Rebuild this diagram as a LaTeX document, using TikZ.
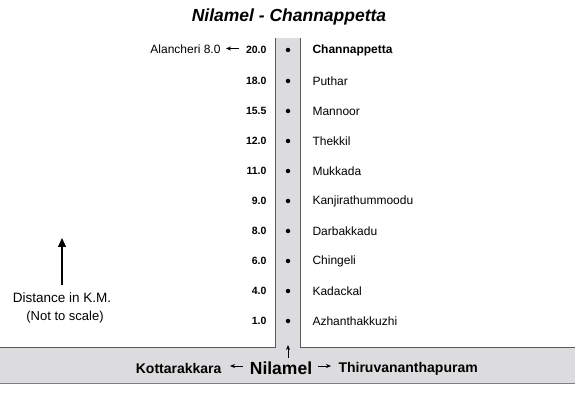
\documentclass[tikz,border=0pt]{standalone}
\usepackage{fontspec}
\setmainfont{Liberation Sans}
\usetikzlibrary{arrows.meta}
\definecolor{road}{RGB}{220,220,222}
\definecolor{edge}{RGB}{90,90,90}
\begin{document}
\begin{tikzpicture}[x=1pt,y=-1pt,
  km/.style={anchor=east,font=\bfseries\fontsize{10.5}{12}\selectfont},
  place/.style={anchor=west,font=\fontsize{12}{14}\selectfont},
  stop/.style={circle,fill=black,inner sep=0pt,minimum size=4.5pt},
  sarr/.style={-{Stealth[length=5pt,width=4pt]},line width=0.7pt}]
\useasboundingbox (0,0) rectangle (575,395);
% road
\fill[road] (0,347) rectangle (575,383);
\fill[road] (275.5,38) rectangle (300.5,348);
\draw[edge,line width=0.8pt] (0,347) -- (275.5,347) -- (275.5,38);
\draw[edge,line width=0.8pt] (575,347) -- (300.5,347) -- (300.5,38);
\draw[gray,line width=1pt] (0,383) -- (575,383);
% title
\node (title) at (289,17) {\bfseries\itshape\fontsize{17.5}{20}\selectfont Nilamel - Channappetta};
% stops
\foreach \y/\k/\n/\name in {50/20.0/s1/{\bfseries Channappetta},81/18.0/s2/Puthar,111/15.5/s3/Mannoor,141/12.0/s4/Thekkil,171/11.0/s5/Mukkada,201/9.0/s6/Kanjirathummoodu,231/8.0/s7/Darbakkadu,261/6.0/s8/Chingeli,291/4.0/s9/Kadackal,321/1.0/s10/Azhanthakkuzhi}{
  \node[stop] (\n) at (288,\y) {};
  \node[km] (k\n) at (270,\y) {\k};
  \node[place] (p\n) at (309,\y) {\name};
}
\node[anchor=east,font=\fontsize{12}{14}\selectfont] (alan) at (224,49) {Alancheri 8.0};
\coordinate (alanr) at (239,48.5);
\coordinate (alanl) at (226,48.5);
\draw[sarr] (alanr) -- (alanl);
% bottom
\node (nil) at (281,368) {\bfseries\fontsize{17.5}{20}\selectfont Nilamel};
\node[anchor=east,font=\bfseries\fontsize{14}{16}\selectfont] (kot) at (225,368.5) {Kottarakkara};
\node[anchor=west,font=\bfseries\fontsize{14}{16}\selectfont] (thi) at (335,368.5) {Thiruvananthapuram};
\coordinate (la) at (243,366);
\coordinate (lb) at (230,366);
\coordinate (ra) at (318,366);
\coordinate (rb) at (331,366);
\draw[sarr] (la) -- (lb);
\draw[sarr] (ra) -- (rb);
\coordinate (upb) at (288,358);
\coordinate (upt) at (288,345);
\draw[sarr] (upb) -- (upt);
% legend
\coordinate (gb) at (62,285);
\coordinate (gt) at (62,238);
\draw[-{Triangle[length=9pt,width=8pt]},line width=1.3pt] (gb) -- (gt);
\node[font=\fontsize{13.5}{15}\selectfont] (dist) at (62,298) {Distance in K.M.};
\node[font=\fontsize{13}{15}\selectfont] (nts) at (65,317) {(Not to scale)};
\end{tikzpicture}
\end{document}
